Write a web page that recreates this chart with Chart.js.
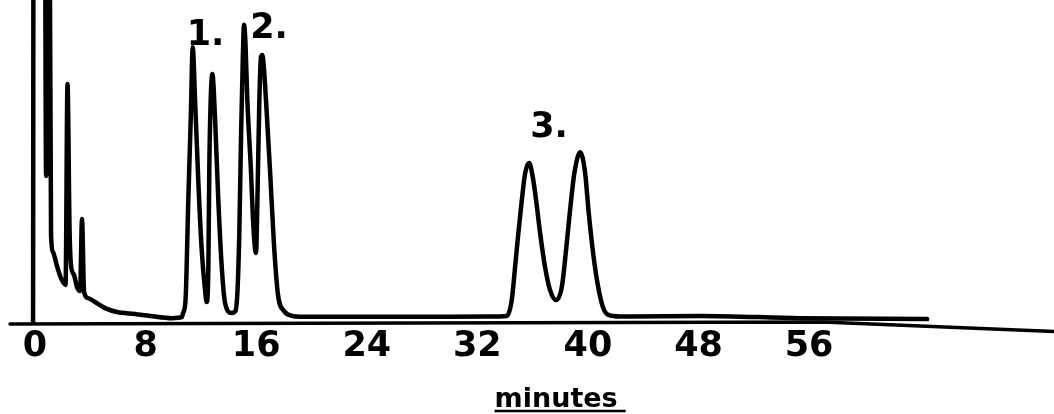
<!DOCTYPE html>
<html>
<head>
<meta charset="utf-8">
<title>Chromatogram</title>
<script src="https://cdn.jsdelivr.net/npm/chart.js@4.4.1/dist/chart.umd.min.js"></script>
<style>
  html, body { margin: 0; padding: 0; background: #ffffff; }
  canvas { display: block; }
</style>
</head>
<body>
<canvas id="chromatogram" width="1054" height="414"></canvas>
<script>
// Recorder trace: retention time (minutes) and detector response (% of full scale).
// Solvent front and early small peaks
const frontTime   = [-0.14, -0.11, 0.72, 0.80, 0.88, 0.98, 1.06, 1.16, 1.30, 1.59, 1.88, 2.21, 2.35, 2.50, 2.60, 2.82, 3.04, 3.26, 3.40, 3.55, 3.84, 4.34, 5.07, 5.93, 7.24, 8.32, 9.91, 10.64];
const frontSignal = [0, 120, 120, 45.5, 52, 120, 120, 27.2, 22.0, 17.6, 13.9, 11.8, 74.0, 28.8, 18.0, 14.9, 11.1, 9.9, 32.2, 9.6, 7.7, 6.5, 4.6, 3.4, 2.8, 2.2, 1.5, 1.9];

// Peak pairs 1 and 2
const pair12Time   = [10.71, 10.89, 11.09, 11.27, 11.41, 11.58, 11.82, 12.06, 12.30, 12.42, 12.54, 12.61, 12.71, 12.83, 13.02, 13.26, 13.51, 13.75, 14.23, 14.50, 14.65, 14.78, 14.91, 15.03, 15.12, 15.23, 15.36, 15.61, 15.80, 15.99, 16.09, 16.23, 16.35, 16.45, 16.57, 16.71, 17.00, 17.29, 17.58, 18.02, 18.60, 19.18];
const pair12Signal = [3.1, 7.1, 38.1, 63.8, 85.4, 69.0, 43.3, 22.6, 10.2, 6.5, 17.3, 48.3, 69.0, 77.1, 63.8, 38.1, 17.3, 6.2, 3.1, 3.7, 10.2, 27.9, 58.8, 81.4, 92.3, 86.1, 69.0, 48.3, 29.7, 21.7, 38.1, 69.0, 82.4, 83.0, 78.3, 69.0, 47.4, 24.1, 8.7, 3.7, 2.2, 1.9];

// Peak pair 3 and the baseline to the end of the run
const pair3Time   = [22.80, 26.41, 32.92, 34.13, 34.49, 34.73, 34.97, 35.22, 35.46, 35.75, 36.01, 36.25, 36.54, 36.90, 37.26, 37.70, 38.11, 38.42, 38.71, 39.02, 39.44, 39.80, 40.04, 40.35, 40.69, 41.08, 41.48, 42.33, 43.05, 48.12, 55.35, 64.54];
const pair3Signal = [1.9, 1.9, 2.0, 2.2, 7.1, 17.3, 27.9, 38.1, 46.4, 49.5, 45.2, 38.1, 27.9, 17.3, 10.2, 7.1, 11.1, 22.6, 35.0, 46.4, 52.9, 46.4, 35.0, 22.6, 12.4, 5.0, 2.5, 2.0, 2.0, 2.2, 1.5, 1.2];

// Time axis tick labels (minutes) and peak names
const tickMinutes = [0, 8, 16, 24, 32, 40, 48, 56];
const peakNames = ['1.', '2.', '3.'];

function toPoints(times, values) {
  return times.map((t, i) => ({ x: t, y: values[i] }));
}
const trace = [].concat(
  toPoints(frontTime, frontSignal),
  toPoints(pair12Time, pair12Signal),
  toPoints(pair3Time, pair3Signal)
);

const INK = '#000000';
const LETTERING = '"DejaVu Sans", "Liberation Sans", sans-serif';

// Draws the paper's base line, the peak numbers and the underlined axis caption
const recorderDecor = {
  id: 'recorderDecor',
  beforeDatasetsDraw(chart, args, opts) {
    const { ctx, scales: { x, y } } = chart;
    ctx.save();
    ctx.strokeStyle = INK;
    ctx.lineWidth = opts.axisWidth;
    ctx.lineCap = 'round';
    ctx.lineJoin = 'round';
    ctx.beginPath();
    opts.axisPath.forEach(([t, h], i) => {
      const px = x.getPixelForValue(t), py = y.getPixelForValue(h);
      if (i === 0) ctx.moveTo(px, py); else ctx.lineTo(px, py);
    });
    ctx.stroke();
    ctx.restore();
  },
  afterDatasetsDraw(chart, args, opts) {
    const { ctx, chartArea, scales: { x, y } } = chart;
    ctx.save();
    ctx.fillStyle = INK;
    ctx.textAlign = 'center';
    ctx.textBaseline = 'alphabetic';
    ctx.font = 'bold ' + opts.peakFontSize + 'px ' + LETTERING;
    peakNames.forEach((name, i) => {
      const [t, h] = opts.peakAt[i];
      ctx.fillText(name, x.getPixelForValue(t), y.getPixelForValue(h));
    });

    // axis caption
    ctx.font = 'bold ' + opts.captionFontSize + 'px ' + LETTERING;
    const cx = x.getPixelForValue(opts.captionAt);
    const cy = chartArea.bottom + opts.captionOffset;
    ctx.fillText(opts.caption, cx, cy);
    const w = ctx.measureText(opts.caption).width;
    ctx.strokeStyle = INK;
    ctx.lineWidth = 2.5;
    ctx.beginPath();
    ctx.moveTo(cx - w / 2, cy + 4);
    ctx.lineTo(cx + w / 2 + 8, cy + 4);
    ctx.stroke();
    ctx.restore();
  }
};

new Chart(document.getElementById('chromatogram'), {
  type: 'line',
  data: {
    datasets: [{
      label: 'detector response',
      data: trace,
      borderColor: INK,
      borderWidth: 4.5,
      pointRadius: 0,
      fill: false,
      cubicInterpolationMode: 'monotone',
      borderCapStyle: 'round',
      borderJoinStyle: 'round'
    }]
  },
  options: {
    responsive: false,
    animation: false,
    devicePixelRatio: 1,
    layout: { padding: { left: 10, right: 0, top: 0, bottom: 0 } },
    plugins: {
      legend: { display: false },
      tooltip: { enabled: false },
      recorderDecor: {
        axisWidth: 3.5,
        axisPath: [[-1.81, -0.3], [57, 0.3], [73.72, -2.6]],
        peakFontSize: 35,
        peakAt: [[12.34, 86.1], [16.93, 88.2], [37.19, 57.6]],
        caption: 'minutes',
        captionAt: 37.7,
        captionOffset: 84,
        captionFontSize: 27
      }
    },
    scales: {
      x: {
        type: 'linear',
        min: -1.81,
        max: 73.72,
        afterBuildTicks: (scale) => { scale.ticks = tickMinutes.map(v => ({ value: v })); },
        afterFit: (scale) => { scale.height = 91; },
        grid: { display: false, drawTicks: false },
        border: { display: false },
        ticks: {
          color: INK,
          padding: 3,
          maxRotation: 0,
          autoSkip: false,
          font: { family: LETTERING, size: 35, weight: 'bold' },
          callback: (v) => String(v)
        },
        title: { display: false }
      },
      y: {
        display: false,
        min: 0,
        max: 100
      }
    }
  },
  plugins: [recorderDecor]
});
</script>
</body>
</html>
